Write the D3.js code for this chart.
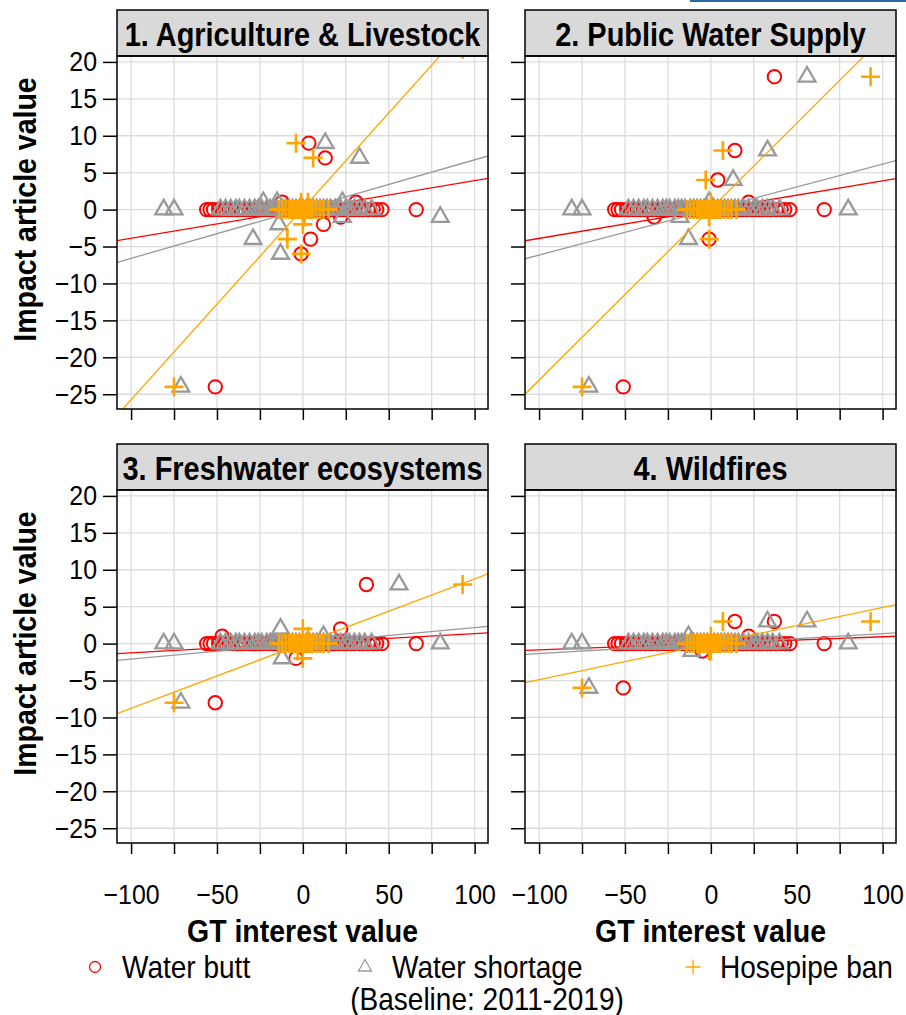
<!DOCTYPE html>
<html>
<head>
<meta charset="utf-8">
<script src="https://cdn.jsdelivr.net/npm/d3@7"></script>
<style>
  body { margin: 0; background: #fff; }
  svg { display: block; font-family: "Liberation Sans", Arial, sans-serif; }
</style>
</head>
<body>
<script>
// panel titles, series and ticks
const panelTitles = ["1. Agriculture & Livestock", "2. Public Water Supply", "3. Freshwater ecosystems", "4. Wildfires"];
const seriesNames = ["Water butt", "Water shortage", "Hosepipe ban"];
const xTicks = [-100, -75, -50, -25, 0, 25, 50, 75, 100];
const xLabelTicks = [-100, -50, 0, 50, 100];
const yTicks = [20, 15, 10, 5, 0, -5, -10, -15, -20, -25];

// GT interest values of the points sitting on 0 in every panel
const buttZeroX = [-56, -54, -52, -49, -47, -45, -43, -41, -38, -36, -34, -31, -29, -27, -25, -23, -21, -19, -17, -15, -13, -11, -9, -7, -6, -4, -3, -2, -1, 0, 1, 2, 4, 5, 7, 9, 11, 13, 15, 17, 19, 21, 24, 26, 28, 30, 33, 35, 38, 41, 43, 46, 66];
const shortageZeroX = [-81, -75, -48, -45, -42, -39, -37, -34, -31, -28, -26, -24, -21, -19, -17, -15, -12, -10, -8, -6, -4, -2, 0, 2, 4, 6, 8, 10, 12, 14, 16, 19, 22, 25, 27, 30, 33, 36, 40];
const hoseZeroX = [-14, -12, -10, -8, -7, -6, -5, -4, -3, -2, -1, 0, 1, 2, 3, 4, 5, 6, 8, 10, 12, 15];

// points off the zero line, [GT interest, impact] per panel
const buttOut = [
  [[3.5, 9], [13, 7], [4.5, -4], [-1, -6], [-51, -24], [12, -2], [22, -1], [31, 1], [-12, 1], [37, 22]],
  [[4, 4], [14, 8], [37, 18], [-1, -4], [-51, -24], [-33, -1], [22, 1]],
  [[37, 8], [22, 2], [-47, 1], [-4, -2], [-51, -8]],
  [[14, 3], [37, 3], [22, 1], [-5, -1], [-51, -6]]
];
const shortageOut = [
  [[13, 9], [33, 7], [-29, -4], [-13, -6], [-71, -24], [80, -1], [-23, 1], [-15, 1], [23, 1], [-14, -2], [23, -1], [56, 22]],
  [[13, 4], [33, 8], [56, 18], [-13, -4], [-71, -24], [80, 0], [-1, 1], [-18, -1]],
  [[56, 8], [-13, 2], [-12, -2], [12, 1], [-71, -8], [80, 0]],
  [[33, 3], [56, 3], [-13, 1], [-11, -1], [-71, -6], [80, 0]]
];
const hoseOut = [
  [[-4, 9], [6, 7], [-9, -4], [-1, -6], [-75, -24], [93, 21.7], [-1, 1], [1, -1], [0, -2], [3, 1]],
  [[-3, 4], [7, 8], [93, 18], [-1, -4], [-75, -24], [0, 1], [-1, -1]],
  [[93, 8], [-75, -8], [0, 2], [0, -2], [3, 1], [-3, -1]],
  [[7, 3], [93, 3], [-75, -6], [0, 1], [0, -1], [-1, -1]]
];

// regression lines [slope, intercept] per panel
const buttFit = [[0.039, 0.02], [0.039, 0.0], [0.013, 0.05], [0.0089, 0.04]];
const shortageFit = [[0.0667, 0.07], [0.0615, 0.0], [0.0213, 0.04], [0.0136, 0.0]];
const hoseFit = [[0.2588, 0.14], [0.232, 0.1], [0.0876, 0.0], [0.0489, 0.0]];

const W = 906, H = 1015;
const pw = 371, ph = 353, stripH = 46;
const lefts = [117, 525, 117, 525];
const tops = [56, 56, 490, 490];
const SX = 0.89; // text is a bit taller than wide

const colors = ["#FF0000", "#999999", "#FFA500"];

const svg = d3.select("body").append("svg")
  .attr("width", W).attr("height", H);

// squeeze text horizontally round its anchor
function squeeze(sel) {
  sel.each(function () {
    const t = d3.select(this);
    const x = +(t.attr("x") || 0), y = +(t.attr("y") || 0);
    const pre = t.attr("transform") || "";
    t.attr("transform", `${pre} translate(${x},${y}) scale(${SX},1) translate(${-x},${-y})`);
  });
}

// little blue rule at the top right
svg.append("rect").attr("x", 690).attr("y", 0).attr("width", 216).attr("height", 2).attr("fill", "#2a6aa5");

const x = d3.scaleLinear().domain([-108.2, 107.8]).range([0, pw]);
const y = d3.scaleLinear().domain([-27, 20.8]).range([ph, 0]);

// marker shapes
const shapes = {
  circle: g => g.append("circle").attr("r", 6.7),
  triangle: g => g.append("path").attr("d", "M0,-9.7L8.4,4.85L-8.4,4.85Z"),
  plus: g => g.append("path").attr("d", "M-9.5,0H9.5M0,-9.5V9.5")
};
const shapeKeys = ["circle", "triangle", "plus"];

function withZero(zx, out) {
  return zx.map(v => [v, 0]).concat(out);
}

panelTitles.forEach((title, i) => {
  const g = svg.append("g").attr("transform", `translate(${lefts[i]},${tops[i]})`);
  const col = i % 2, row = Math.floor(i / 2);

  svg.append("clipPath").attr("id", "clip" + i)
    .append("rect").attr("width", pw).attr("height", ph);

  // grid
  g.append("g").selectAll("line").data(xTicks).join("line")
    .attr("x1", d => x(d)).attr("x2", d => x(d)).attr("y1", 0).attr("y2", ph)
    .attr("stroke", "#dcdcdc").attr("stroke-width", 1.3);
  g.append("g").selectAll("line").data(yTicks).join("line")
    .attr("y1", d => y(d)).attr("y2", d => y(d)).attr("x1", 0).attr("x2", pw)
    .attr("stroke", "#dcdcdc").attr("stroke-width", 1.3);

  const plot = g.append("g").attr("clip-path", `url(#clip${i})`);
  const sets = [
    [withZero(buttZeroX, buttOut[i]), buttFit[i]],
    [withZero(shortageZeroX, shortageOut[i]), shortageFit[i]],
    [withZero(hoseZeroX, hoseOut[i]), hoseFit[i]]
  ];
  sets.forEach(([pts, fit], s) => {
    const sg = plot.append("g")
      .attr("fill", "none").attr("stroke", colors[s])
      .attr("stroke-width", s === 0 ? 2 : (s === 1 ? 2.3 : 2.6));
    sg.selectAll("g").data(pts).join("g")
      .attr("transform", d => `translate(${x(d[0])},${y(d[1])})`)
      .each(function () { shapes[shapeKeys[s]](d3.select(this)); });
    const xd = x.domain();
    plot.append("line")
      .attr("x1", x(xd[0])).attr("y1", y(fit[0] * xd[0] + fit[1]))
      .attr("x2", x(xd[1])).attr("y2", y(fit[0] * xd[1] + fit[1]))
      .attr("stroke", colors[s]).attr("stroke-width", 1.3);
  });

  // x axis
  const xa = g.append("g").attr("transform", `translate(0,${ph})`)
    .call(d3.axisBottom(x).tickValues(xTicks).tickSize(11).tickPadding(30)
      .tickFormat(d => (row === 1 && xLabelTicks.includes(d)) ? d3.format("d")(d) : ""));
  xa.select(".domain").remove();
  xa.selectAll("line").attr("stroke", "#000").attr("stroke-width", 1.5);
  xa.selectAll("text").attr("font-size", 28).attr("fill", "#000").attr("font-family", null).call(squeeze);

  // y axis
  const ya = g.append("g")
    .call(d3.axisLeft(y).tickValues(yTicks).tickSize(14).tickPadding(6)
      .tickFormat(d => col === 0 ? d3.format("d")(d) : ""));
  ya.select(".domain").remove();
  ya.selectAll("line").attr("stroke", "#000").attr("stroke-width", 1.5);
  ya.selectAll("text").attr("font-size", 28).attr("fill", "#000").attr("font-family", null).call(squeeze);

  // strip
  g.append("rect").attr("x", 0).attr("y", -stripH).attr("width", pw).attr("height", stripH)
    .attr("fill", "#d9d9d9").attr("stroke", "#000").attr("stroke-width", 1.5);
  g.append("text").attr("x", pw / 2).attr("y", -10)
    .attr("text-anchor", "middle").attr("font-weight", "bold").attr("font-size", 32.5)
    .text(title).call(squeeze);

  // border
  g.append("rect").attr("width", pw).attr("height", ph)
    .attr("fill", "none").attr("stroke", "#000").attr("stroke-width", 1.5);

  // axis titles
  if (row === 1) {
    g.append("text").attr("x", pw / 2).attr("y", ph + 99)
      .attr("text-anchor", "middle").attr("font-weight", "bold").attr("font-size", 32)
      .text("GT interest value").call(squeeze);
  }
  if (col === 0) {
    const cy = (-stripH + ph) / 2;
    g.append("text").attr("transform", `translate(${36 - lefts[i]},${cy}) rotate(-90)`)
      .attr("text-anchor", "middle").attr("font-weight", "bold").attr("font-size", 32)
      .text("Impact article value").call(squeeze);
  }
});

// legend
const legX = [95, 365, 693];
const legend = svg.append("g").attr("transform", "translate(0,967)");
seriesNames.forEach((name, s) => {
  const lg = legend.append("g").attr("transform", `translate(${legX[s]},0)`)
    .attr("fill", "none").attr("stroke", colors[s]).attr("stroke-width", 1.3);
  if (s === 0) lg.append("circle").attr("r", 5.5);
  if (s === 1) lg.append("path").attr("d", "M0,-7.5L6.5,4L-6.5,4Z");
  if (s === 2) lg.append("path").attr("d", "M-7.5,0H7.5M0,-7.5V7.5");
  legend.append("text").attr("x", legX[s] + 27).attr("y", 11)
    .attr("font-size", 31.5).attr("fill", "#000").text(name).call(squeeze);
});
svg.append("text").attr("x", 487).attr("y", 1010).attr("text-anchor", "middle")
  .attr("font-size", 31.5).text("(Baseline: 2011-2019)").call(squeeze);
</script>
</body>
</html>
